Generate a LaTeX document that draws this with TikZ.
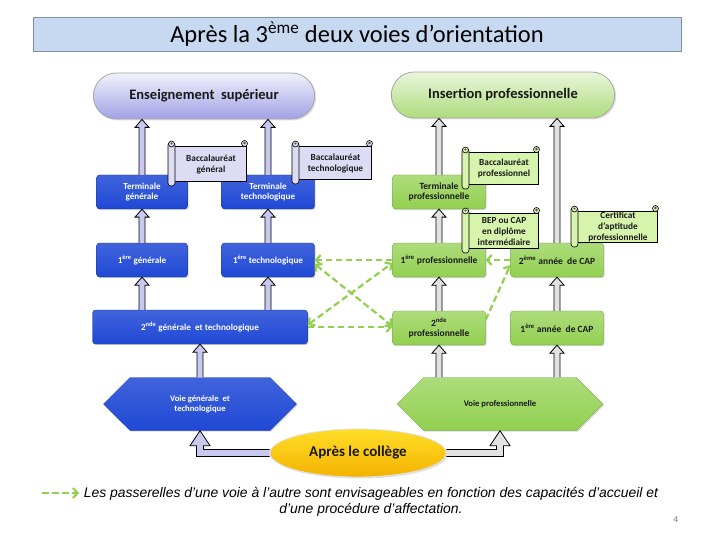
\documentclass[tikz,border=0pt]{standalone}
\usepackage{fontspec}
\setmainfont{Carlito}
\newfontfamily\arialf{Liberation Sans}
\usetikzlibrary{arrows.meta,shapes.geometric,shapes.misc,shapes.symbols,shadows,calc}
\definecolor{bbl}{HTML}{1F48D5}
\definecolor{bgr}{HTML}{92D050}
\definecolor{lavf}{HTML}{C8C8F0}
\definecolor{grayf}{HTML}{E2E2E2}
\definecolor{scrlav}{HTML}{DCDCF4}
\definecolor{scrgr}{HTML}{D6F4AC}
\definecolor{pgreen}{HTML}{92D050}
\definecolor{titlef}{HTML}{C6D9F1}
\definecolor{titled}{HTML}{7F8FA6}
\newcommand\scrl[7]{%
  \draw[line width=0.6pt, fill=#6] ({#2+3},{#3+6}) rectangle ({#4-1},{#5-5});
  \draw[line width=0.6pt, fill=#6] ({#4-2.5},{#3+3.5}) circle[radius=3pt];
  \fill[black!70] ({#4-2.5},{#3+3}) circle[radius=1.3pt];
  \draw[line width=0.6pt, fill=#6, rounded corners=3pt] (#2,{#3+2}) rectangle ({#2+7},#5);
  \draw[line width=0.6pt, fill=#6] ({#2+3.5},{#3+4}) circle[radius=3pt];
  \fill[black!70] ({#2+3.5},{#3+3.5}) circle[radius=1.2pt];
  \node[scrtext] (#1) at ({(#2+#4)/2+3.5},{(#3+#5)/2+1.2}) {#7};
}
% hollow vertical arrow from #2 (bottom) up to #3 (top), fill #1
\newcommand\hup[3]{%
  \draw[harrow, fill=#1] let \p1=(#2), \p2=(#3) in
   ({\x1-3pt},{\y1}) -- ({\x1-3pt},{\y2-8pt}) -- ({\x1-7pt},{\y2-8pt}) -- ({\x1},{\y2})
   -- ({\x1+7pt},{\y2-8pt}) -- ({\x1+3pt},{\y2-8pt}) -- ({\x1+3pt},{\y1});
}
\begin{document}
\begin{tikzpicture}[x=1pt,y=-1pt,
  boxbase/.style={rectangle, rounded corners=3pt, line width=0.3pt, align=center,
    inner sep=1pt, minimum height=34pt,
    drop shadow={shadow xshift=1.2pt, shadow yshift=-1.2pt, opacity=0.3}},
  bbox/.style={boxbase, top color=bbl!85!white, bottom color=bbl, draw=bbl!70!black, text=white,
    font=\bfseries\fontsize{9.1}{10.5}\selectfont},
  gbox/.style={boxbase, top color=bgr!75!white, bottom color=bgr, draw=bgr!75!black, text=black!90,
    font=\bfseries\fontsize{9.5}{10.5}\selectfont},
  hexbase/.style={signal, signal to=west and east, signal pointer angle=90, minimum height=53pt,
    line width=0.3pt, align=center, inner sep=1pt, font=\bfseries\fontsize{8.6}{10}\selectfont,
    drop shadow={shadow xshift=1.2pt, shadow yshift=-1.2pt, opacity=0.3}},
  pill/.style={rounded rectangle, minimum height=46pt, line width=0.8pt,
    font=\bfseries\fontsize{14.5}{16}\selectfont, text=black!90,
    drop shadow={shadow xshift=1.5pt, shadow yshift=-1.5pt, opacity=0.25}},
  scrtext/.style={align=center, inner sep=0pt, font=\bfseries\fontsize{9.3}{10.8}\selectfont, text=black!90},
  harrow/.style={draw=black, line width=0.8pt, line join=miter},
  pass/.style={draw=pgreen, line width=2.2pt, dash pattern=on 6.5pt off 3.5pt},
  sb/.tip={Straight Barb[length=4.5pt, width=10pt]}
]
\useasboundingbox (0,0) rectangle (720,540);
\fill[white] (0,0) rectangle (720,540);

% title
\node[draw=titled, fill=titlef, line width=0.6pt, minimum width=648pt, minimum height=34pt,
  font=\fontsize{24.5}{26}\selectfont, text=black] (title) at (357,34) {Après la 3\textsuperscript{ème} deux voies d’orientation};

% top pills
\node[pill, minimum width=228pt, draw=black!35, top color=white!75!lavf, bottom color=lavf!85!blue!95!black] (es) at (204,96) {Enseignement\ \ supérieur};
\node[pill, minimum width=230pt, draw=black!35, top color=bgr!20!white, bottom color=bgr!75!white] (ip) at (503,95) {Insertion professionnelle};

% left column
\node[bbox, minimum width=91pt] (tg) at (142,192) {Terminale\\générale};
\node[bbox, minimum width=93pt] (tt) at (268,192) {Terminale\\technologique};
\node[bbox, minimum width=91pt] (pg) at (142,260) {1\textsuperscript{ère} générale};
\node[bbox, minimum width=93pt] (pt) at (268,260) {1\textsuperscript{ère} technologique};
\node[bbox, minimum width=215pt] (sgt) at (200,327) {2\textsuperscript{nde} générale\ \ et technologique};

% right column
\node[gbox, minimum width=93pt] (tp) at (439,192) {Terminale\\professionnelle};
\node[gbox, minimum width=93pt] (pp) at (439,260) {1\textsuperscript{ère} professionnelle};
\node[gbox, minimum width=93pt] (c2) at (557,260) {2\textsuperscript{ème} année\ \ de CAP};
\node[gbox, minimum width=93pt] (sp) at (439,328) {2\textsuperscript{nde}\\professionnelle};
\node[gbox, minimum width=93pt] (c1) at (557,328) {1\textsuperscript{ère} année\ \ de CAP};

% hexagons
\node[hexbase, minimum width=193pt, top color=bbl!85!white, bottom color=bbl, draw=bbl!70!black, text=white] (vgt) at (200,404) {Voie générale\ \ et\\technologique};
\node[hexbase, minimum width=206pt, top color=bgr!75!white, bottom color=bgr, draw=bgr!75!black, text=black!90] (vp) at (500,404) {Voie professionnelle};

% college
\node[ellipse, minimum width=176pt, minimum height=48pt, draw=black!12, line width=0.8pt,
  top color={rgb,255:red,255;green,222;blue,40}, bottom color={rgb,255:red,244;green,178;blue,0},
  font=\bfseries\fontsize{15}{17}\selectfont, text=black!90,
  drop shadow={shadow xshift=1.5pt, shadow yshift=-1.5pt, opacity=0.25}] (col) at (358,453) {Après le collège};

% vertical arrows left
\hup{lavf}{pg.south |- sgt.north}{pg.south}
\hup{lavf}{pt.south |- sgt.north}{pt.south}
\hup{lavf}{pg.north}{tg.south}
\hup{lavf}{pt.north}{tt.south}
\hup{lavf}{tg.north}{tg.north |- es.south}
\hup{lavf}{tt.north}{tt.north |- es.south}
\hup{lavf}{vgt.north}{sgt.south}

% vertical arrows right
\hup{grayf}{vp.north -| sp}{sp.south}
\hup{grayf}{sp.north}{pp.south}
\hup{grayf}{pp.north}{tp.south}
\hup{grayf}{tp.north}{tp.north |- ip.south}
\hup{grayf}{vp.north -| c1}{c1.south}
\hup{grayf}{c1.north}{c2.south}
\hup{grayf}{c2.north}{c2.north |- ip.south}

% college arrows
\draw[harrow, fill=lavf] let \p1=(col.west), \p2=(vgt.south) in
  ({\x1},{\y1+3.5pt}) -- ({\x2+3.5pt},{\y1+3.5pt}) -- ({\x2+3.5pt},{\y2-15pt}) -- ({\x2+10pt},{\y2-15pt})
  -- (\x2,\y2) -- ({\x2-10pt},{\y2-15pt}) -- ({\x2-3.5pt},{\y2-15pt}) -- ({\x2-3.5pt},{\y1-3.5pt}) -- ({\x1},{\y1-3.5pt});
\draw[harrow, fill=grayf] let \p1=(col.east), \p2=(vp.south) in
  ({\x1},{\y1+3.5pt}) -- ({\x2-3.5pt},{\y1+3.5pt}) -- ({\x2-3.5pt},{\y2-15pt}) -- ({\x2-10pt},{\y2-15pt})
  -- (\x2,\y2) -- ({\x2+10pt},{\y2-15pt}) -- ({\x2+3.5pt},{\y2-15pt}) -- ({\x2+3.5pt},{\y1-3.5pt}) -- ({\x1},{\y1-3.5pt});

% scrolls
\scrl{bg}{168}{140}{247}{186}{scrlav}{Baccalauréat\\général}
\scrl{bt}{292}{140}{372}{184}{scrlav}{Baccalauréat\\technologique}
\scrl{bp}{462}{146}{539}{189}{scrgr}{Baccalauréat\\professionnel}
\scrl{bep}{462}{207}{539}{253}{scrgr}{BEP ou CAP\\en diplôme\\intermédiaire}
\scrl{cap}{571}{205}{658}{247}{scrgr}{Certificat\\d’aptitude\\professionnelle}

% passerelles
\draw[pass, -sb] (pp.west) -- (pt.east);
\draw[pass, -sb] (sgt.east) -- (sgt.east -| sp.west);
\draw[pass, sb-sb] ([yshift=2pt]sgt.east) -- ([yshift=-3pt]pp.west);
\draw[pass, sb-sb] ([yshift=-4pt]pt.east) -- ([yshift=2pt]sp.west);
\draw[pass, -sb] (c2.west) -- (pp.east);
\draw[pass, -sb] ([yshift=8pt]sp.east) -- ([yshift=-5pt]c2.west);

% legend
\coordinate (lg0) at (42,493);
\coordinate (lg1) at (79,493);
\draw[pass, -sb] (lg0) -- (lg1);
\node[font=\arialf\itshape\fontsize{13.9}{16.5}\selectfont, align=center, text=black, inner sep=0pt] (leg) at (371,502)
  {Les passerelles d’une voie à l’autre sont envisageables en fonction des capacités d’accueil et\\d’une procédure d’affectation.};

\node[font=\fontsize{9}{10}\selectfont, text=black!55] (pgn) at (676,520) {4};
\end{tikzpicture}
\end{document}
